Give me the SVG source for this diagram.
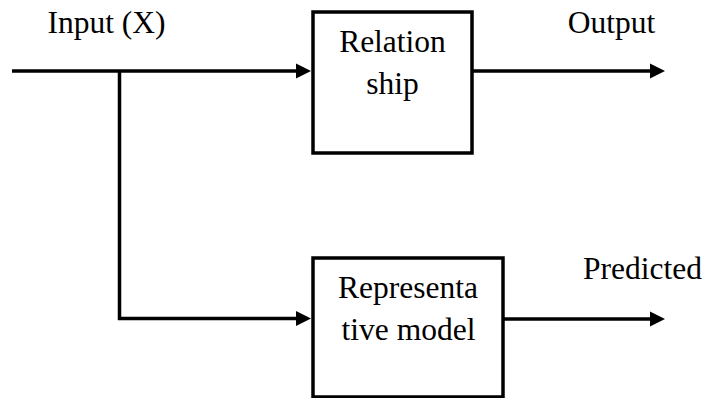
<svg xmlns="http://www.w3.org/2000/svg" width="718" height="398" viewBox="0 0 718 398">
<defs>
<style>
.box{fill:#fff;stroke:#000;stroke-width:3.5}
.ln{fill:none;stroke:#000;stroke-width:3.5}
.head{fill:#000}
.t{font-family:'Liberation Serif',serif;font-size:31.5px;text-anchor:middle;fill:#000}
</style>
</defs>
<rect width="718" height="398" fill="#fff"/>
<g id="connectors">
<path class="ln" d="M12,71 H298"/>
<path class="ln" d="M119.5,71 V318.5 H298"/>
<path class="ln" d="M473,71 H652"/>
<path class="ln" d="M504,319 H652"/>
<path class="head" d="M296,63.5 L311,71 L296,78.5 Z"/>
<path class="head" d="M296,311 L311,318.5 L296,326 Z"/>
<path class="head" d="M650,63.5 L665,71 L650,78.5 Z"/>
<path class="head" d="M650,311.5 L665,319 L650,326.5 Z"/>
</g>
<g id="label-input"><text class="t" x="106.5" y="33">Input (X)</text></g>
<g id="label-output"><text class="t" x="611.5" y="33">Output</text></g>
<g id="label-predicted"><text class="t" x="642.5" y="279">Predicted</text></g>
<g id="node-relationship">
<rect class="box" x="313" y="12" width="159" height="141"/>
<text class="t" x="392.5" y="52">Relation</text>
<text class="t" x="392.5" y="94">ship</text>
</g>
<g id="node-model">
<rect class="box" x="313" y="258" width="190" height="139"/>
<text class="t" x="408" y="298">Representa</text>
<text class="t" x="408.5" y="340">tive model</text>
</g>
</svg>
